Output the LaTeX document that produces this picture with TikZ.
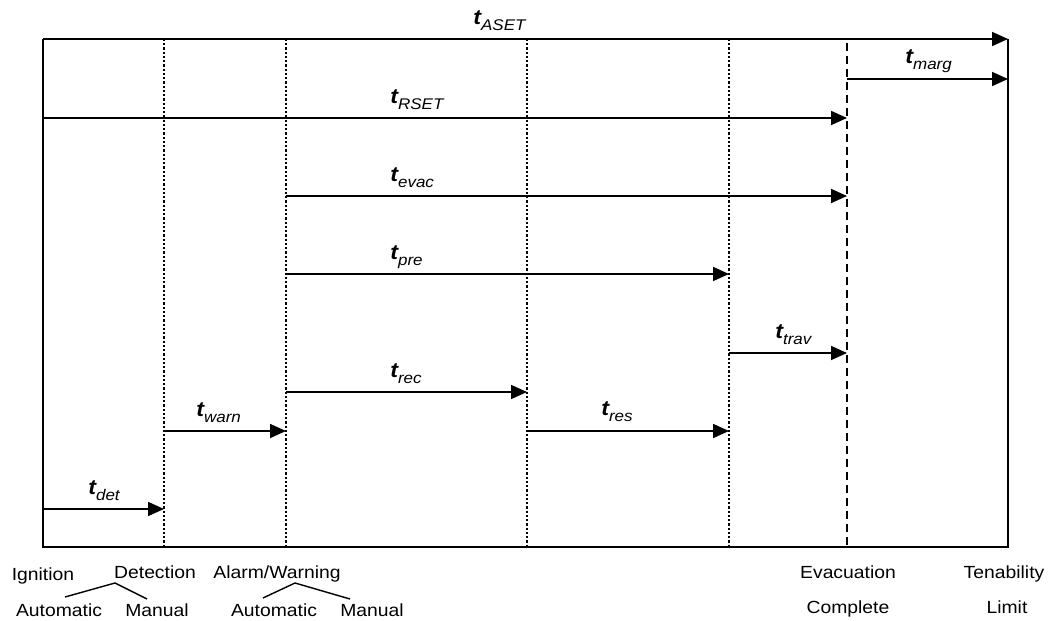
\documentclass[tikz,border=0pt]{standalone}
\usepackage{fontspec}
\setmainfont[FakeStretch=1.1]{Liberation Sans}
\usetikzlibrary{arrows.meta}

\newcommand{\tsub}[1]{{\fontsize{12}{13}\selectfont\bfseries\itshape t}\raisebox{-3.4pt}{\fontsize{8.8}{9}\selectfont\itshape #1}}

\begin{document}
\begin{tikzpicture}[x=0.02cm,y=-0.02cm]
\useasboundingbox (0,0) rectangle (1055,621);

% time points and rows
\coordinate (Ign) at (43,0);
\coordinate (Det) at (164,0);
\coordinate (Alm) at (286,0);
\coordinate (Rec) at (527,0);
\coordinate (Pre) at (729,0);
\coordinate (Evc) at (847,0);
\coordinate (Ten) at (1008,0);

\coordinate (top) at (0,39);
\coordinate (bot) at (0,547);
\coordinate (rMarg) at (0,79);
\coordinate (rRSET) at (0,118);
\coordinate (rEvac) at (0,196);
\coordinate (rPre) at (0,274);
\coordinate (rTrav) at (0,353);
\coordinate (rRec) at (0,392);
\coordinate (rWarn) at (0,431);
\coordinate (rDet) at (0,509);

% frame and time lines
\draw[line width=0.03cm] (Ign |- top) -- (Ign |- bot) -- (Ten |- bot) -- (Ten |- top);
\begin{scope}[line width=0.025cm, dash pattern=on 0.045cm off 0.04cm]
    \draw (Det |- top) -- (Det |- bot);
    \draw (Alm |- top) -- (Alm |- bot);
    \draw (Rec |- top) -- (Rec |- bot);
    \draw (Pre |- top) -- (Pre |- bot);
\end{scope}
\coordinate (evtop) at (847,43);
\draw[line width=0.055cm, dash pattern=on 0.16cm off 0.1cm] (evtop) -- (Evc |- bot);

% time intervals
\begin{scope}[>={Triangle[length=0.32cm,width=0.28cm]},
              every edge/.style={draw=black,line width=0.036cm}]
    \path [->] (Ign |- top) edge (Ten |- top);
    \path [->] (Evc |- rMarg) edge (Ten |- rMarg);
    \path [->] (Ign |- rRSET) edge (Evc |- rRSET);
    \path [->] (Alm |- rEvac) edge (Evc |- rEvac);
    \path [->] (Alm |- rPre) edge (Pre |- rPre);
    \path [->] (Pre |- rTrav) edge (Evc |- rTrav);
    \path [->] (Alm |- rRec) edge (Rec |- rRec);
    \path [->] (Det |- rWarn) edge (Alm |- rWarn);
    \path [->] (Rec |- rWarn) edge (Pre |- rWarn);
    \path [->] (Ign |- rDet) edge (Det |- rDet);
\end{scope}

% interval labels
\begin{scope}[every node/.style={anchor=base west,inner sep=0pt}]
    \node (lASET) at (473,25) {\tsub{ASET}};
    \node (lMarg) at (905,64) {\tsub{marg}};
    \node (lRSET) at (390,104) {\tsub{RSET}};
    \node (lEvac) at (390,182) {\tsub{evac}};
    \node (lPre) at (390,260) {\tsub{pre}};
    \node (lTrav) at (775,339) {\tsub{trav}};
    \node (lRec) at (390,378) {\tsub{rec}};
    \node (lWarn) at (196,417) {\tsub{warn}};
    \node (lRes) at (601,416) {\tsub{res}};
    \node (lDet) at (88,495) {\tsub{det}};
\end{scope}

% events
\begin{scope}[every node/.style={anchor=base,inner sep=0pt,font=\fontsize{10}{11}\selectfont}]
    \node (ignition) at (43,580) {Ignition};
    \node (detection) at (155,578) {Detection};
    \node (alarm) at (277,578) {Alarm/Warning};
    \node (dauto) at (59,616) {Automatic};
    \node (dman) at (157,616) {Manual};
    \node (aauto) at (274,616) {Automatic};
    \node (aman) at (372,616) {Manual};
    \node (evac1) at (848,578) {Evacuation};
    \node (evac2) at (848,613) {Complete};
    \node (ten1) at (1004,578) {Tenability};
    \node (ten2) at (1007,613) {Limit};
\end{scope}

\coordinate (dtop) at (115,583);
\coordinate (dleft) at (65,597);
\coordinate (dright) at (147,599);
\coordinate (atop) at (295,583);
\coordinate (aleft) at (263,598);
\coordinate (aright) at (350,599);
\draw[line width=0.028cm] (dleft) -- (dtop) -- (dright);
\draw[line width=0.028cm] (aleft) -- (atop) -- (aright);
\end{tikzpicture}
\end{document}
